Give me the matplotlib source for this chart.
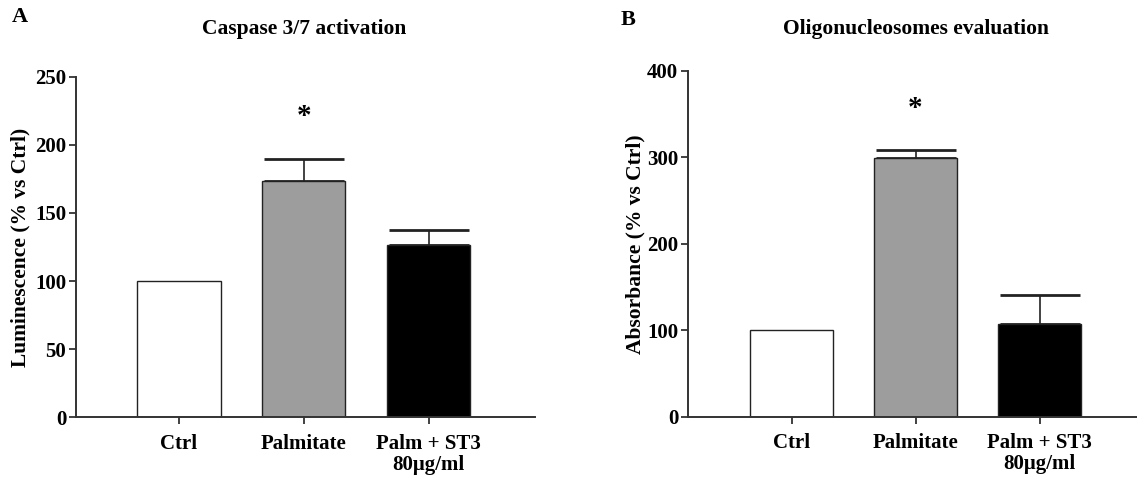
import matplotlib.pyplot as plt
import numpy as np

# datos
grupos = ['Ctrl', 'Palmitate', 'Palm + ST3\n80\u03bcg/ml']
colores = ['white', '#9c9d9c', 'black']

caspasa = [100, 173.5, 126.5]
caspasa_err = [0, 16, 11]

oligo = [100, 299.5, 107.5]
oligo_err = [0, 9, 33.5]

plt.rcParams['font.family'] = ['Liberation Serif', 'DejaVu Serif']
plt.rcParams['font.weight'] = 'bold'

fig = plt.figure(figsize=(11.37, 4.79), dpi=100)
ax1 = fig.add_axes([0.0668, 0.1288, 0.4037, 0.7112])
ax2 = fig.add_axes([0.6051, 0.1300, 0.3949, 0.7224])


def dibujar(ax, valores, errores, ylabel, ymax, paso, xlim, y_ast):
    x = np.arange(len(grupos))
    ax.bar(x, valores, width=0.665, color=colores, edgecolor='#222222', linewidth=1.0, zorder=2)
    ax.errorbar(x[1:], valores[1:], yerr=[np.zeros(2), errores[1:]], fmt='none',
                ecolor='#222222', elinewidth=1.2, capsize=29, capthick=2, zorder=1)
    ax.set_xlim(*xlim)
    ax.set_ylim(0, ymax)
    ax.set_yticks(np.arange(0, ymax + 1, paso))
    ax.set_xticks(x)
    ax.set_xticklabels(grupos, fontsize=15, fontweight='bold', linespacing=1.05)
    ax.tick_params(axis='y', labelsize=15, width=1.3, length=5, color='#333333', pad=2)
    ax.tick_params(axis='x', width=1.3, length=5, color='#333333', pad=7)
    for lbl in ax.get_yticklabels():
        lbl.set_fontweight('bold')
    ax.spines['top'].set_visible(False)
    ax.spines['right'].set_visible(False)
    for s in ['left', 'bottom']:
        ax.spines[s].set_linewidth(1.4)
        ax.spines[s].set_color('#333333')
    ax.set_ylabel(ylabel, fontsize=15.5, fontweight='bold', va='center')
    ax.text(1, y_ast, '*', ha='center', va='center', fontsize=21, fontweight='bold')


dibujar(ax1, caspasa, caspasa_err, 'Luminescence (% vs Ctrl)',
        250, 50, (-0.825, 2.85), 221)
dibujar(ax2, oligo, oligo_err, 'Absorbance (% vs Ctrl)',
        400, 100, (-0.835, 2.785), 356)
ax1.yaxis.set_label_coords(-0.12, 0.5)
ax2.yaxis.set_label_coords(-0.118, 0.5)

fig.text(0.2674, 0.939, 'Caspase 3/7 activation', ha='center', va='center',
         fontsize=15.5, fontweight='bold')
fig.text(0.8054, 0.939, 'Oligonucleosomes evaluation', ha='center', va='center',
         fontsize=15.5, fontweight='bold')

fig.text(0.0106, 0.9645, 'A', fontsize=16, fontweight='bold', va='center')
fig.text(0.5455, 0.959, 'B', fontsize=16, fontweight='bold', va='center')

fig.savefig('out.png', dpi=100)
